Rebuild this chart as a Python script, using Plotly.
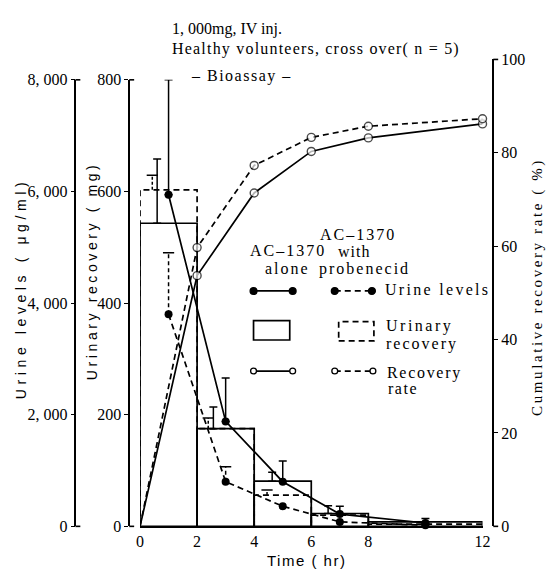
import plotly.graph_objects as go

# ---------------- data ----------------
bar_left = [0, 2, 4, 6, 8]
bar_right = [2, 4, 6, 8, 12]
recovery_alone_mg = [543, 175, 81, 23, 8]
recovery_prob_mg = [603, 175, 56, 20, 4]
bar_err_alone_x = [0.6, 2.57, 4.63, 6.59]
bar_err_alone_top = [658, 214, 97, 37]
bar_err_prob_x = [0.43, 2.39, 4.45]
bar_err_prob_top = [629, 194, 65]

urine_x = [1, 3, 5, 7, 10]
urine_alone = [5940, 1880, 800, 220, 60]
urine_alone_top = [8000, 2660, 1170, 360, 140]
urine_prob = [3800, 800, 360, 80, 20]
urine_prob_err_x = [1, 3]
urine_prob_err_top = [4900, 1070]

rate_x = [0, 2, 4, 6, 8, 12]
rate_alone = [0, 53.7, 71.4, 80.3, 83.2, 86.2]
rate_prob = [0, 59.7, 77.3, 83.3, 85.7, 87.3]

x_ticks = [0, 2, 4, 6, 8, 12]
mg_ticks = [0, 200, 400, 600, 800]
ugml_ticks = [0, 2000, 4000, 6000, 8000]
ugml_ticktext = ["0", "2, 000", "4, 000", "6, 000", "8, 000"]
pct_ticks = [0, 20, 40, 60, 80, 100]

# ---------------- helpers ----------------
W, H = 560, 580
def PX(x):
    return x / W
def PY(y):
    return 1 - y / H

SERIF = "Liberation Serif, Times New Roman, serif"
SANS = "Liberation Sans, Arial, sans-serif"
LW = 1.7
DASH = "6px,4px"
BLACK = "black"

fig = go.Figure()

# solid bars (alone)
centers = [(a + b) / 2 for a, b in zip(bar_left, bar_right)]
widths = [b - a for a, b in zip(bar_left, bar_right)]
fig.add_trace(go.Bar(x=centers, y=recovery_alone_mg, width=widths,
                     marker=dict(color="rgba(0,0,0,0)", line=dict(color=BLACK, width=LW)),
                     xaxis="x", yaxis="y", showlegend=False))

# dashed bars (with probenecid)
bx, by = [], []
for a, b, h in zip(bar_left, bar_right, recovery_prob_mg):
    bx += [a, a, b, b, None]
    by += [0, h, h, 0, None]
fig.add_trace(go.Scatter(x=bx, y=by, mode="lines", line=dict(color=BLACK, width=LW, dash=DASH),
                         xaxis="x", yaxis="y", showlegend=False, cliponaxis=False))

# bar error bars (alone) - solid
alone_base = recovery_alone_mg[:len(bar_err_alone_x)]
fig.add_trace(go.Scatter(x=bar_err_alone_x, y=alone_base, mode="markers",
                         marker=dict(size=1, color="rgba(0,0,0,0)"),
                         error_y=dict(type="data", symmetric=False,
                                      array=[t - b for t, b in zip(bar_err_alone_top, alone_base)],
                                      arrayminus=[0] * len(alone_base), color=BLACK, thickness=1.5, width=4),
                         xaxis="x", yaxis="y", showlegend=False))

# bar error bars (probenecid) - dashed stems
prob_base = recovery_prob_mg[:len(bar_err_prob_x)]
ex, ey = [], []
for xx, b, t in zip(bar_err_prob_x, prob_base, bar_err_prob_top):
    ex += [xx, xx, None]
    ey += [b, t, None]
fig.add_trace(go.Scatter(x=ex, y=ey, mode="lines", line=dict(color=BLACK, width=1.5, dash="3px,2px"),
                         xaxis="x", yaxis="y", showlegend=False))
fig.add_trace(go.Scatter(x=bar_err_prob_x, y=bar_err_prob_top, mode="markers",
                         marker=dict(symbol="line-ew-open", size=8, color=BLACK,
                                     line=dict(color=BLACK, width=1.5)),
                         xaxis="x", yaxis="y", showlegend=False))

# urine levels alone
fig.add_trace(go.Scatter(x=urine_x, y=urine_alone, mode="lines+markers",
                         line=dict(color=BLACK, width=LW),
                         marker=dict(size=8, color=BLACK),
                         error_y=dict(type="data", symmetric=False,
                                      array=[t - v for t, v in zip(urine_alone_top, urine_alone)],
                                      arrayminus=[0] * len(urine_alone), color=BLACK, thickness=1.5, width=4),
                         xaxis="x", yaxis="y3", showlegend=False, cliponaxis=False))

# urine levels with probenecid
fig.add_trace(go.Scatter(x=urine_x, y=urine_prob, mode="lines+markers",
                         line=dict(color=BLACK, width=LW, dash=DASH),
                         marker=dict(size=8, color=BLACK),
                         xaxis="x", yaxis="y3", showlegend=False, cliponaxis=False))
pbase = [urine_prob[urine_x.index(xx)] for xx in urine_prob_err_x]
ex, ey = [], []
for xx, b, t in zip(urine_prob_err_x, pbase, urine_prob_err_top):
    ex += [xx, xx, None]
    ey += [b, t, None]
fig.add_trace(go.Scatter(x=ex, y=ey, mode="lines", line=dict(color=BLACK, width=1.5, dash="4px,3px"),
                         xaxis="x", yaxis="y3", showlegend=False))
fig.add_trace(go.Scatter(x=urine_prob_err_x, y=urine_prob_err_top, mode="markers",
                         marker=dict(symbol="line-ew-open", size=8, color=BLACK,
                                     line=dict(color=BLACK, width=1.5)),
                         xaxis="x", yaxis="y3", showlegend=False))

# cumulative recovery rate
msize = [0] + [8] * (len(rate_x) - 1)
fig.add_trace(go.Scatter(x=rate_x, y=rate_alone, mode="lines+markers",
                         line=dict(color=BLACK, width=LW),
                         marker=dict(size=msize, color="white", line=dict(color=BLACK, width=1.4)),
                         xaxis="x", yaxis="y2", showlegend=False, cliponaxis=False))
fig.add_trace(go.Scatter(x=rate_x, y=rate_prob, mode="lines+markers",
                         line=dict(color=BLACK, width=LW, dash=DASH),
                         marker=dict(size=msize, color="white", line=dict(color=BLACK, width=1.4)),
                         xaxis="x", yaxis="y2", showlegend=False, cliponaxis=False))

# ---------------- axes ----------------
y_dom = [PY(534), PY(74)]
y2_dom = [PY(534), PY(53)]
tickfont = dict(family=SERIF, size=16, color=BLACK)
common = dict(showgrid=False, zeroline=False, showline=True, linecolor=BLACK, linewidth=1.6,
              ticks="outside", ticklen=4, tickwidth=1.4, tickcolor=BLACK, tickfont=tickfont)

fig.update_layout(
    width=W, height=H, autosize=False,
    margin=dict(l=0, r=0, t=0, b=0),
    paper_bgcolor="white", plot_bgcolor="rgba(0,0,0,0)",
    showlegend=False,
    xaxis=dict(domain=[PX(139), PX(489)], range=[0, 12], anchor="y",
               showgrid=False, zeroline=False, showline=True, linecolor=BLACK, linewidth=1.6,
               ticks="", tickvals=x_ticks, ticktext=[str(t) for t in x_ticks], tickfont=tickfont),
    yaxis=dict(domain=y_dom, range=[0, 800], anchor="free", position=PX(128), side="left",
               tickvals=mg_ticks, ticktext=[str(t) for t in mg_ticks], **common),
    yaxis3=dict(range=[0, 8000], overlaying="y", anchor="free", position=PX(73), side="left",
                tickvals=ugml_ticks, ticktext=ugml_ticktext, **common),
    yaxis2=dict(domain=y2_dom, range=[0, 100], anchor="free", position=PX(500), side="right",
                tickvals=pct_ticks, ticktext=[str(t) for t in pct_ticks], **common),
)

shapes = []
# end serifs on axis lines
for xline, ytop in [(73, 74), (128, 74), (500, 53)]:
    for yy in (ytop, 534):
        shapes.append(dict(type="line", xref="paper", yref="paper",
                           x0=PX(xline), x1=PX(xline + 5), y0=PY(yy), y1=PY(yy),
                           line=dict(color=BLACK, width=1.6)))

# custom legend
def seg(x0, x1, y, dash=None):
    shapes.append(dict(type="line", xref="paper", yref="paper", x0=PX(x0), x1=PX(x1), y0=PY(y), y1=PY(y),
                       line=dict(color=BLACK, width=LW, dash=dash or "solid")))
def dot(x, y, r, filled):
    shapes.append(dict(type="circle", xref="paper", yref="paper", x0=PX(x - r), x1=PX(x + r),
                       y0=PY(y + r), y1=PY(y - r), fillcolor=BLACK if filled else "white",
                       line=dict(color=BLACK, width=1.3)))
def rect(x0, x1, y0, y1, dash=None):
    shapes.append(dict(type="rect", xref="paper", yref="paper", x0=PX(x0), x1=PX(x1), y0=PY(y1), y1=PY(y0),
                       line=dict(color=BLACK, width=LW, dash=dash or "solid")))

seg(255, 295, 291.5); dot(255, 291.5, 3.5, True); dot(295, 291.5, 3.5, True)
seg(338, 376, 291.5, DASH); dot(338, 291.5, 3.5, True); dot(376, 291.5, 3.5, True)
rect(255, 292, 322, 342)
rect(342, 378, 323, 343, DASH)
seg(255, 295, 374); dot(255, 374, 3, False); dot(295, 374, 3, False)
seg(338, 377, 374, DASH); dot(338, 374, 3, False); dot(377, 374, 3, False)
fig.update_layout(shapes=shapes)

ann = []
def text(t, x, y, xanchor="center", size=16, family=SERIF, angle=0, ls=0):
    if ls:
        t = '<span style="letter-spacing:%spx">%s</span>' % (ls, t)
    ann.append(dict(text=t, x=PX(x), y=PY(y), xref="paper", yref="paper", xanchor=xanchor,
                    yanchor="middle", showarrow=False, textangle=angle,
                    font=dict(family=family, size=size, color=BLACK)))

text("1, 000mg, IV inj.", 170, 22, "left")
text("Healthy volunteers, cross over( n = 5)", 170, 42, "left", ls=1.2)
text("\u2013 Bioassay \u2013", 243, 70, ls=1.5)
text("AC\u20131370", 290, 250, ls=2)
text("alone", 290, 268, ls=2)
text("AC\u20131370", 362, 233, ls=2)
text("with", 358, 251, ls=1)
text("probenecid", 368, 269, ls=2)
text("Urine levels", 387, 290, "left", ls=2.3)
text("Urinary", 388, 328, "left", ls=2.5)
text("recovery", 388, 346, "left", ls=2)
text("Recovery", 389, 376, "left", ls=1.7)
text("rate", 390, 392, "left", ls=1.5)
text("Time ( hr)", 309, 569, size=15, family=SANS, ls=1.5)
text("Urine levels ( \u03bcg/ml)", 17, 289, size=14, family=SANS, angle=-90, ls=4.6)
text("Urinary recovery ( mg)", 90, 271, size=14, family=SANS, angle=-90, ls=3.6)
text("Cumulative recovery rate ( %)", 545, 287, size=15, angle=-90, ls=2.6)
fig.update_layout(annotations=ann)

fig.write_html("out.html")
